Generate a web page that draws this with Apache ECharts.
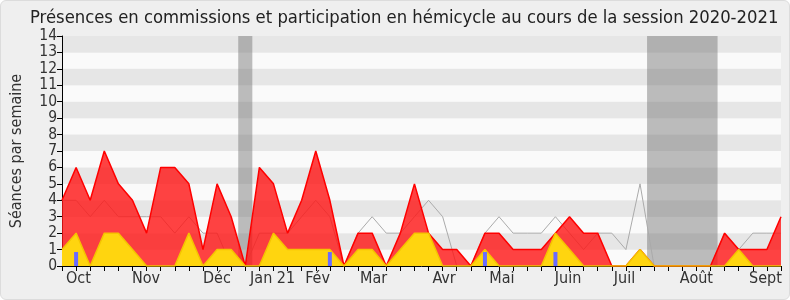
<!DOCTYPE html>
<html><head><meta charset="utf-8">
<script src="https://cdn.jsdelivr.net/npm/echarts@6/dist/echarts.min.js"></script>
<style>
html,body{margin:0;padding:0;background:#fff;}
#c{width:788px;height:298px;border:1px solid #dcdcdc;border-radius:6px;background:#efefef;}
</style></head>
<body><div id="c"></div>
<script>
// week index 0..51
const titleText = "Présences en commissions et participation en hémicycle au cours de la session 2020-2021";
const yName = "Séances par semaine";
const monthLabels = ["Oct","Nov","Déc","Jan 21","Fév","Mar","Avr","Mai","Juin","Juil","Août","Sept"];
const monthPos = [1.16,5.96,10.99,14.94,18.13,22.1,27.1,31.2,35.9,39.9,45.0,49.9];
const presence = [4,6,4,7,5,4,2,6,6,5,1,5,3,0,6,5,2,4,7,4,0,2,2,0,2,5,2,1,1,0,2,2,1,1,1,2,3,2,2,0,0,1,0,0,0,0,0,2,1,1,1,3];
const hemicycle = [1,2,0,2,2,1,0,0,0,2,0,1,1,0,0,2,1,1,1,1,0,1,1,0,1,2,2,0,0,0,1,0,0,0,0,2,1,0,0,0,0,1,0,0,0,0,0,0,1,0,0,0];
const median = [4,4,3,4,3,3,3,3,2,3,2,2,0,0,2,2,2,3,4,3,0,2,3,2,2,3,4,3,0,0,2,3,2,2,2,3,2,1,2,2,1,5,0,0,0,0,0,2,1,2,2,2];
const blueWeeks = [1,19,30,35];
const blueValues = [0.85,0.85,0.85,0.85];
const vacStart = [12.5,41.5];
const vacEnd = [13.5,46.5];

const weeks = presence.map((_,i)=>i);
const font = "DejaVu Sans Condensed, DejaVu Sans, sans-serif";
const chart = echarts.init(document.getElementById('c'));
chart.setOption({
  animation:false,
  title:{text:titleText,left:24,top:3,textStyle:{fontFamily:font,fontSize:18.3,fontWeight:'normal',color:'#222'}},
  grid:{left:60,right:8,top:35,bottom:33,containLabel:false},
  xAxis:{type:'value',min:0,max:51,interval:1,
    axisLine:{show:true,onZero:false,lineStyle:{color:'#000'}},
    axisTick:{show:true,customValues:weeks,length:5,lineStyle:{color:'#000'}},
    axisLabel:{customValues:monthPos,fontFamily:font,fontSize:16,color:'#333',margin:5,
      formatter:(v)=>{const k=monthPos.findIndex(p=>Math.abs(p-v)<0.01);return k>=0?monthLabels[k]:'';}},
    splitLine:{show:false}},
  yAxis:{type:'value',min:0,max:14,interval:1,name:yName,nameLocation:'middle',nameGap:37,
    nameTextStyle:{fontFamily:font,fontSize:16,color:'#333'},
    axisLine:{show:true,lineStyle:{color:'#000'}},
    axisTick:{show:true,length:5,lineStyle:{color:'#000'}},
    axisLabel:{fontFamily:font,fontSize:15.5,color:'#333',margin:5},
    splitLine:{show:false},
    splitArea:{show:true,areaStyle:{color:['#fafafa','#e6e6e6']}}},
  series:[
    {type:'line',name:'median',data:weeks.map(i=>[i,median[i]]),symbol:'none',z:2,
     lineStyle:{color:'#aaaaaa',width:1}},
    {type:'line',name:'presence',data:weeks.map(i=>[i,presence[i]]),symbol:'none',z:3,
     lineStyle:{color:'#ff0000',width:1.5},areaStyle:{color:'rgba(255,20,20,0.8)',opacity:1}},
    {type:'line',name:'hemicycle',data:weeks.map(i=>[i,hemicycle[i]]),symbol:'none',z:4,
     lineStyle:{color:'#f5c400',width:1.5},areaStyle:{color:'#ffd50f',opacity:1}},
    {type:'bar',name:'blue',data:blueWeeks.map((w,k)=>[w,blueValues[k]]),barWidth:4,z:5,
     itemStyle:{color:'#6b6bff'}},
    {type:'line',name:'vac',data:[],z:6,
     markArea:{silent:true,itemStyle:{color:'rgba(110,110,110,0.45)'},
       data:vacStart.map((s,k)=>[{xAxis:s},{xAxis:vacEnd[k]}])}}
  ]
});
</script></body></html>
